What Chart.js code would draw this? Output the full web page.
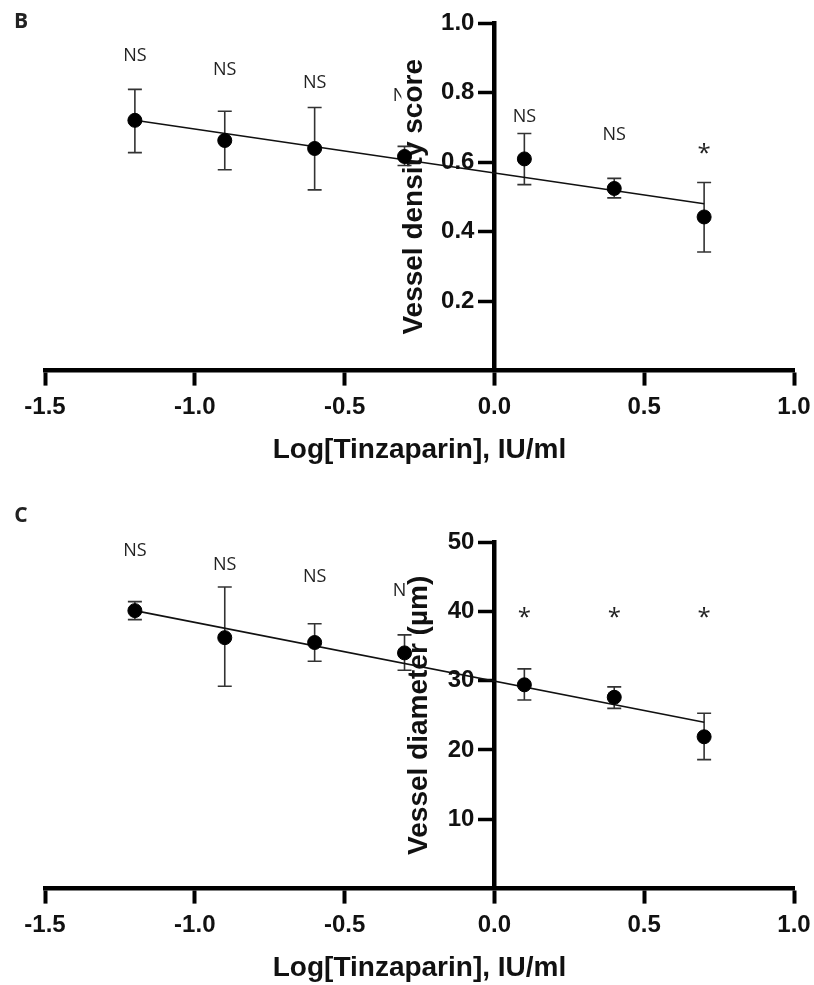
<!DOCTYPE html>
<html>
<head>
<meta charset="utf-8">
<script src="https://cdn.jsdelivr.net/npm/chart.js@4.4.1/dist/chart.umd.min.js"></script>
<style>
  html, body { margin: 0; padding: 0; background: #fff; }
  .panel { position: relative; width: 814px; }
  #wrapB { height: 469px; }
  #wrapC { height: 516px; }
</style>
</head>
<body>
<div class="panel" id="wrapB"><canvas id="chartB"></canvas></div>
<div class="panel" id="wrapC"><canvas id="chartC"></canvas></div>
<script>
// shared x values: log dose
var logDose = [-1.2, -0.9, -0.6, -0.3, 0.1, 0.4, 0.7];
var xTicks = [-1.5, -1.0, -0.5, 0.0, 0.5, 1.0];

// panel B - vessel density score
var densityMean = [0.720, 0.662, 0.639, 0.616, 0.609, 0.524, 0.442];
var densityLow  = [0.627, 0.578, 0.520, 0.590, 0.535, 0.497, 0.341];
var densityHigh = [0.809, 0.746, 0.757, 0.645, 0.682, 0.553, 0.541];
var densityFit  = [0.720, 0.480];   // fitted line at first and last dose
var densitySig  = ['NS', 'NS', 'NS', 'NS', 'NS', 'NS', '*'];
var densitySigY = [0.905, 0.864, 0.827, 0.789, 0.731, 0.679, 0.636];
var densityTicks = [0.2, 0.4, 0.6, 0.8, 1.0];

// panel C - vessel diameter
var diamMean = [40.1, 36.2, 35.5, 34.0, 29.4, 27.6, 21.9];
var diamLow  = [38.8, 29.2, 32.8, 31.5, 27.2, 26.0, 18.6];
var diamHigh = [41.4, 43.5, 38.2, 36.6, 31.7, 29.1, 25.3];
var diamFit  = [40.1, 24.0];
var diamSig  = ['NS', 'NS', 'NS', 'NS', '*', '*', '*'];
var diamSigY = [48.7, 46.7, 44.9, 42.9, 39.7, 39.7, 39.7];
var diamTicks = [10, 20, 30, 40, 50];

var axisFont = 'Liberation Sans, Arial, sans-serif';
var noteFont = 'Open Sans, Noto Sans, sans-serif';
// y labels sit right-aligned on the axis line when the axis is at x=0,
// so pad them with trailing spaces to clear the tick marks
var yPad = '   ';

var decorPlugin = {
  id: 'decor',
  beforeDatasetsDraw: function(chart) {
    var o = chart.options.plugins.decor;
    var ctx = chart.ctx, xs = chart.scales.x, ys = chart.scales.y;
    ctx.save();

    // panel letter
    ctx.fillStyle = '#222';
    ctx.font = 'bold 21px ' + noteFont;
    ctx.textAlign = 'center';
    ctx.textBaseline = 'middle';
    ctx.fillText(o.letter, o.letterX, o.letterY);

    // significance labels
    for (var i = 0; i < o.sig.length; i++) {
      var px = xs.getPixelForValue(logDose[i]);
      var py = ys.getPixelForValue(o.sigY[i]);
      if (o.sig[i] === '*') {
        ctx.font = '24px ' + noteFont;
        ctx.fillText('*', px, py + 5);
      } else {
        ctx.font = '18px ' + noteFont;
        ctx.fillText(o.sig[i], px, py);
      }
    }

    // y axis title, with a white box behind it
    var x0 = xs.getPixelForValue(0);
    var cy = (ys.top + ys.bottom) / 2;
    var bx = x0 - o.titleGap;
    ctx.font = 'bold 28px ' + axisFont;
    var w = ctx.measureText(o.yTitle).width;
    ctx.fillStyle = '#fff';
    ctx.fillRect(bx - 21, cy - w / 2 - 2, 27, w + 4);
    ctx.translate(bx, cy);
    ctx.rotate(-Math.PI / 2);
    ctx.fillStyle = '#111';
    ctx.textBaseline = 'alphabetic';
    ctx.fillText(o.yTitle, 0, 0);
    ctx.setTransform(1, 0, 0, 1, 0, 0);
    ctx.restore();

    // error bars
    ctx.save();
    ctx.strokeStyle = '#333';
    ctx.lineWidth = 1.6;
    for (var j = 0; j < logDose.length; j++) {
      var ex = xs.getPixelForValue(logDose[j]);
      var yl = ys.getPixelForValue(o.low[j]);
      var yh = ys.getPixelForValue(o.high[j]);
      ctx.beginPath();
      ctx.moveTo(ex, yl); ctx.lineTo(ex, yh);
      ctx.moveTo(ex - 7, yl); ctx.lineTo(ex + 7, yl);
      ctx.moveTo(ex - 7, yh); ctx.lineTo(ex + 7, yh);
      ctx.stroke();
    }
    ctx.restore();
  }
};

function makeChart(id, p) {
  return new Chart(document.getElementById(id), {
    type: 'scatter',
    data: {
      datasets: [
        {
          type: 'line',
          data: [{x: logDose[0], y: p.fit[0]}, {x: logDose[logDose.length - 1], y: p.fit[1]}],
          borderColor: '#111',
          borderWidth: 1.6,
          pointRadius: 0,
          fill: false,
          order: 2
        },
        {
          data: logDose.map(function(x, i) { return {x: x, y: p.mean[i]}; }),
          backgroundColor: '#000',
          borderColor: '#000',
          pointRadius: 7,
          pointHoverRadius: 7,
          order: 1
        }
      ]
    },
    options: {
      responsive: true,
      maintainAspectRatio: false,
      animation: false,
      layout: { padding: { top: p.padTop, left: 45, right: 20, bottom: 0 } },
      plugins: {
        legend: { display: false },
        tooltip: { enabled: false },
        decor: {
          letter: p.letter, letterX: 21, letterY: p.letterY,
          sig: p.sig, sigY: p.sigY, low: p.low, high: p.high,
          yTitle: p.yTitle, titleGap: p.titleGap
        }
      },
      scales: {
        x: {
          type: 'linear',
          position: 'bottom',
          min: -1.5,
          max: 1.0,
          afterBuildTicks: function(scale) {
            scale.ticks = xTicks.map(function(v) { return {value: v}; });
          },
          // let the layout padding alone decide the plot edges
          afterFit: function(scale) {
            scale.paddingLeft = 0;
            scale.paddingRight = 0;
          },
          border: { display: true, color: '#000', width: 4.5 },
          grid: { display: true, drawOnChartArea: false, drawTicks: true, tickLength: 15, tickWidth: 4, color: '#000' },
          ticks: {
            color: '#111',
            padding: 7,
            autoSkip: false,
            maxRotation: 0,
            font: { family: axisFont, size: 24, weight: 'bold' },
            callback: function(v) { return Number(v).toFixed(1); }
          },
          title: {
            display: true,
            text: 'Log[Tinzaparin], IU/ml',
            color: '#111',
            font: { family: axisFont, size: 28, weight: 'bold' },
            padding: p.titlePad
          }
        },
        y: {
          type: 'linear',
          position: { x: 0 },
          min: 0,
          max: p.yMax,
          afterBuildTicks: function(scale) {
            scale.ticks = p.ticks.map(function(v) { return {value: v}; });
          },
          border: { display: true, color: '#000', width: 4.5 },
          grid: { display: true, drawOnChartArea: false, drawTicks: true, tickLength: 14, tickWidth: 3.5, color: '#000' },
          ticks: {
            color: '#111',
            font: { family: axisFont, size: 24, weight: 'bold' },
            callback: p.tickFmt
          }
        }
      }
    },
    plugins: [decorPlugin]
  });
}

makeChart('chartB', {
  letter: 'B', letterY: 22, padTop: 23, titlePad: { top: 5, bottom: 2 },
  mean: densityMean, low: densityLow, high: densityHigh, fit: densityFit,
  sig: densitySig, sigY: densitySigY, ticks: densityTicks, yMax: 1.0,
  yTitle: 'Vessel density score', titleGap: 72,
  tickFmt: function(v) { return Number(v).toFixed(1) + yPad; }
});

makeChart('chartC', {
  letter: 'C', letterY: 47, padTop: 73, titlePad: { top: 5, bottom: 0 },
  mean: diamMean, low: diamLow, high: diamHigh, fit: diamFit,
  sig: diamSig, sigY: diamSigY, ticks: diamTicks, yMax: 50,
  yTitle: 'Vessel diameter (\u00b5m)', titleGap: 67,
  tickFmt: function(v) { return String(v) + yPad; }
});
</script>
</body>
</html>
